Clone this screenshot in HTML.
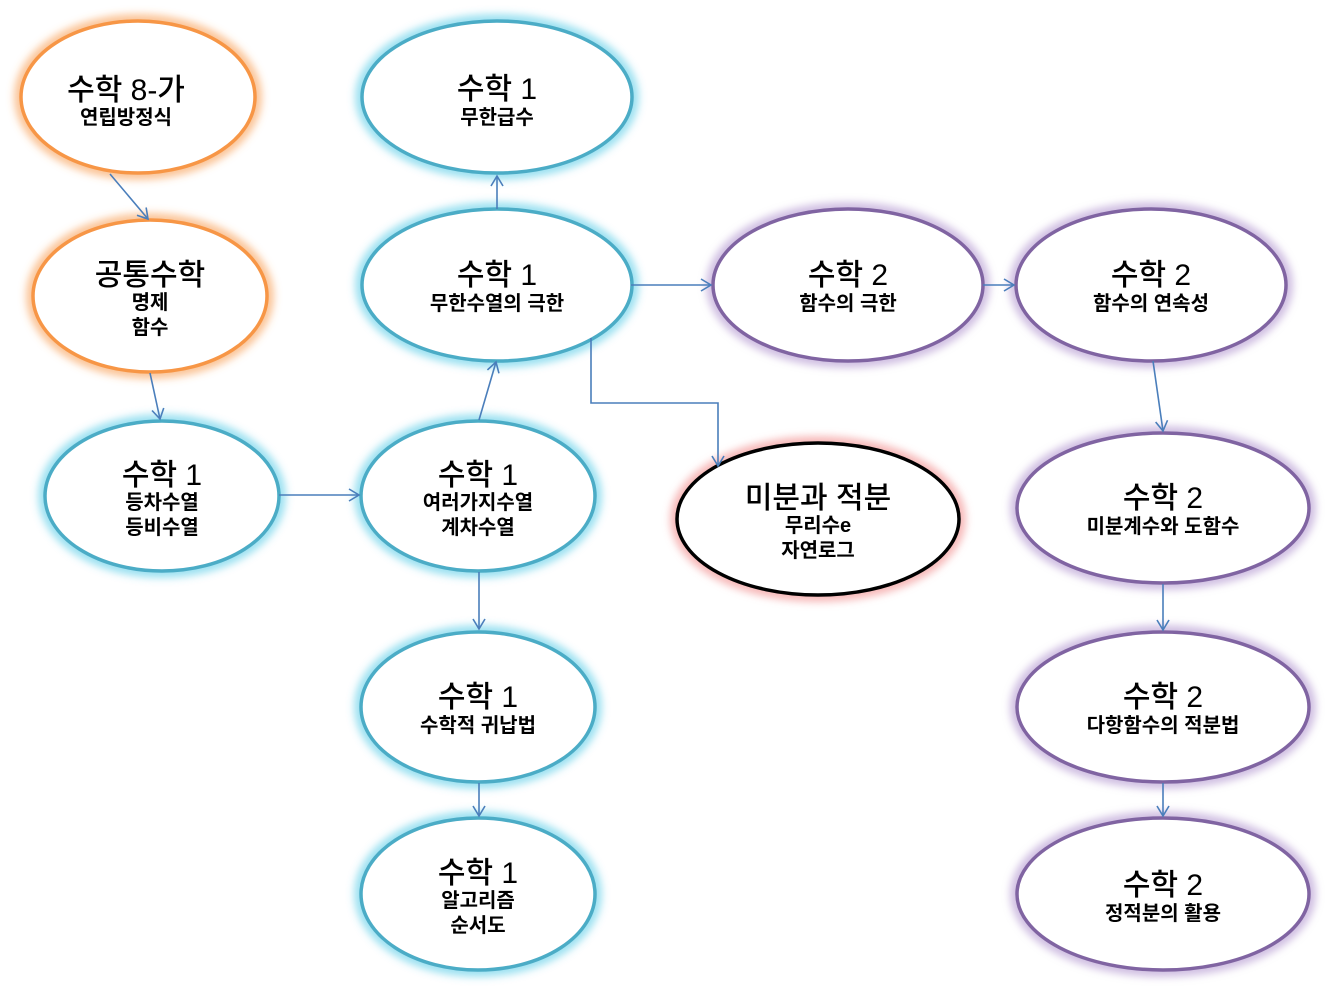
<!DOCTYPE html>
<html><head><meta charset="utf-8"><style>
html,body{margin:0;padding:0;background:#fff;}
svg{display:block;}
text{font-family:"Liberation Sans","Noto Sans CJK KR","NanumGothic",sans-serif;text-anchor:middle;fill:#000;}
.t{font-size:30px;font-weight:500;}
.s{font-size:20px;font-weight:bold;}
.ar{stroke:#4A7EBB;stroke-width:1.6;fill:none;marker-end:url(#a);}
</style></head><body>
<svg width="1325" height="986" viewBox="0 0 1325 986">
<defs>
<marker id="a" markerWidth="14" markerHeight="14" refX="11" refY="7" orient="auto" markerUnits="userSpaceOnUse">
<path d="M1,1 L11,7 L1,13" fill="none" stroke="#4A7EBB" stroke-width="1.6"/></marker>
<filter id="g" x="-20%" y="-20%" width="140%" height="140%"><feGaussianBlur stdDeviation="4"/></filter>
</defs>
<g id="glows" filter="url(#g)" fill="none" stroke-width="14" stroke-opacity="0.55">
<ellipse cx="138" cy="97" rx="117" ry="76" stroke="#F79646"/>
<ellipse cx="150" cy="296" rx="117" ry="76" stroke="#F79646"/>
<ellipse cx="162" cy="496" rx="117" ry="75" stroke="#4BC8E6"/>
<ellipse cx="497" cy="97" rx="135" ry="76" stroke="#4BC8E6"/>
<ellipse cx="497" cy="285" rx="135" ry="76" stroke="#4BC8E6"/>
<ellipse cx="848" cy="285" rx="135" ry="76" stroke="#A98BCB"/>
<ellipse cx="1151" cy="285" rx="135" ry="76" stroke="#A98BCB"/>
<ellipse cx="478" cy="496" rx="117" ry="75" stroke="#4BC8E6"/>
<ellipse cx="818" cy="519" rx="141" ry="76" stroke="#F08080"/>
<ellipse cx="1163" cy="508" rx="146" ry="75" stroke="#A98BCB"/>
<ellipse cx="478" cy="707" rx="117" ry="75" stroke="#4BC8E6"/>
<ellipse cx="1163" cy="707" rx="146" ry="75" stroke="#A98BCB"/>
<ellipse cx="478" cy="894" rx="117" ry="76" stroke="#4BC8E6"/>
<ellipse cx="1163" cy="894" rx="146" ry="76" stroke="#A98BCB"/>
</g>
<g fill="#fff" stroke-width="3.5">
<ellipse cx="138" cy="97" rx="117" ry="76" stroke="#F79646"/>
<ellipse cx="150" cy="296" rx="117" ry="76" stroke="#F79646"/>
<ellipse cx="162" cy="496" rx="117" ry="75" stroke="#4BACC6"/>
<ellipse cx="497" cy="97" rx="135" ry="76" stroke="#4BACC6"/>
<ellipse cx="497" cy="285" rx="135" ry="76" stroke="#4BACC6"/>
<ellipse cx="848" cy="285" rx="135" ry="76" stroke="#8064A2"/>
<ellipse cx="1151" cy="285" rx="135" ry="76" stroke="#8064A2"/>
<ellipse cx="478" cy="496" rx="117" ry="75" stroke="#4BACC6"/>
<ellipse cx="818" cy="519" rx="141" ry="76" stroke="#000"/>
<ellipse cx="1163" cy="508" rx="146" ry="75" stroke="#8064A2"/>
<ellipse cx="478" cy="707" rx="117" ry="75" stroke="#4BACC6"/>
<ellipse cx="1163" cy="707" rx="146" ry="75" stroke="#8064A2"/>
<ellipse cx="478" cy="894" rx="117" ry="76" stroke="#4BACC6"/>
<ellipse cx="1163" cy="894" rx="146" ry="76" stroke="#8064A2"/>
</g>
<path class="ar" d="M110,174 L148,219"/>
<path class="ar" d="M150,373 L160,419"/>
<path class="ar" d="M279,495 L359,495"/>
<path class="ar" d="M479,420 L496,362"/>
<path class="ar" d="M497,209 L497,176"/>
<path class="ar" d="M631,285 L711,285"/>
<path class="ar" d="M983,285 L1014,285"/>
<path class="ar" d="M591,338 L591,403 L718,403 L718,466"/>
<path class="ar" d="M1153,361 L1163,431"/>
<path class="ar" d="M479,572 L479,629"/>
<path class="ar" d="M479,783 L479,816"/>
<path class="ar" d="M1163,584 L1163,630"/>
<path class="ar" d="M1163,783 L1163,816"/>

<text class="t" x="126" y="100">수학 8-가</text><text class="s" x="126" y="124">연립방정식</text>
<text class="t" x="150" y="285">공통수학</text><text class="s" x="150" y="309">명제</text><text class="s" x="150" y="334">함수</text>
<text class="t" x="162" y="485">수학 1</text><text class="s" x="162" y="509">등차수열</text><text class="s" x="162" y="534">등비수열</text>
<text class="t" x="497" y="99">수학 1</text><text class="s" x="497" y="124">무한급수</text>
<text class="t" x="497" y="285">수학 1</text><text class="s" x="497" y="310">무한수열의 극한</text>
<text class="t" x="848" y="285">수학 2</text><text class="s" x="848" y="310">함수의 극한</text>
<text class="t" x="1151" y="285">수학 2</text><text class="s" x="1151" y="310">함수의 연속성</text>
<text class="t" x="478" y="485">수학 1</text><text class="s" x="478" y="509">여러가지수열</text><text class="s" x="478" y="534">계차수열</text>
<text class="t" x="818" y="508">미분과 적분</text><text class="s" x="818" y="532">무리수e</text><text class="s" x="818" y="557">자연로그</text>
<text class="t" x="1163" y="508">수학 2</text><text class="s" x="1163" y="533">미분계수와 도함수</text>
<text class="t" x="478" y="707">수학 1</text><text class="s" x="478" y="732">수학적 귀납법</text>
<text class="t" x="1163" y="707">수학 2</text><text class="s" x="1163" y="732">다항함수의 적분법</text>
<text class="t" x="478" y="883">수학 1</text><text class="s" x="478" y="907">알고리즘</text><text class="s" x="478" y="932">순서도</text>
<text class="t" x="1163" y="895">수학 2</text><text class="s" x="1163" y="920">정적분의 활용</text>
</svg>
</body></html>
